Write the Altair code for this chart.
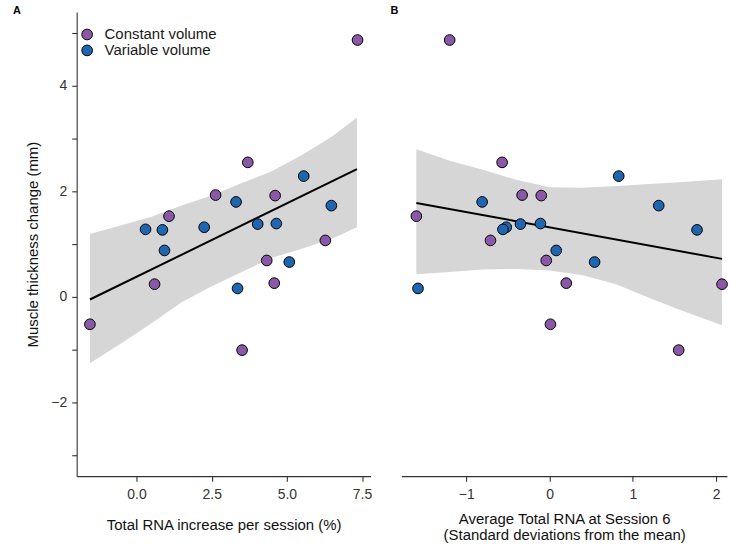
import altair as alt
import pandas as pd

# ---- data ----
groups = ["Constant volume"] * 11 + ["Variable volume"] * 11
rna_increase = [7.35, 3.70, 2.63, 4.61, 1.08, 6.28, 4.33, 4.58, 0.60, -1.55, 3.51,
                5.56, 3.31, 6.48, 4.03, 4.65, 2.25, 0.30, 0.86, 0.93, 5.08, 3.36]
rna_session6 = [-1.20, -0.57, -0.33, -0.10, -1.60, -0.71, -0.04, 0.20, 2.07, 0.01, 1.55,
                0.83, -0.81, 1.31, -0.35, -0.11, -0.52, -0.56, 1.77, 0.08, 0.54, -1.58]
thickness = [4.87, 2.55, 1.93, 1.92, 1.53, 1.07, 0.69, 0.26, 0.24, -0.52, -1.01,
             2.29, 1.80, 1.73, 1.38, 1.39, 1.32, 1.28, 1.27, 0.88, 0.66, 0.16]

# fitted line (end points) and 95% band
lineA_x = [-1.55, 7.33]
lineA_y = [-0.05, 2.42]
bandA_x = [-1.55, -0.5, 0.5, 1.5, 2.5, 3.5, 4.5, 5.5, 6.5, 7.33]
bandA_hi = [1.19, 1.36, 1.52, 1.73, 1.92, 2.16, 2.38, 2.69, 3.04, 3.40]
bandA_lo = [-1.26, -0.88, -0.50, -0.10, 0.20, 0.47, 0.74, 0.91, 1.10, 1.32]

lineB_x = [-1.60, 2.07]
lineB_y = [1.78, 0.72]
bandB_x = [-1.6, -1.2, -0.8, -0.4, 0.0, 0.4, 0.8, 1.2, 1.6, 2.07]
bandB_hi = [2.80, 2.58, 2.41, 2.22, 2.08, 2.07, 2.10, 2.14, 2.18, 2.23]
bandB_lo = [0.43, 0.47, 0.52, 0.53, 0.50, 0.41, 0.24, -0.02, -0.27, -0.54]

group_names = ["Constant volume", "Variable volume"]
group_colors = ["#8b58a8", "#1f66b1"]

pts = pd.DataFrame({"group": groups, "rna_inc": rna_increase,
                    "rna_s6": rna_session6, "thick": thickness})
bandA = pd.DataFrame({"gx": bandA_x, "lo": bandA_lo, "hi": bandA_hi})
lineA = pd.DataFrame({"gx": lineA_x, "fit": lineA_y})
bandB = pd.DataFrame({"gx": bandB_x, "lo": bandB_lo, "hi": bandB_hi})
lineB = pd.DataFrame({"gx": lineB_x, "fit": lineB_y})

FONT = "Liberation Sans"
yscale = alt.Scale(domain=[-3.4, 5.4], nice=False, zero=False)
color = alt.Color("group:N", scale=alt.Scale(domain=group_names, range=group_colors),
                  legend=alt.Legend(title=None, orient="none", legendX=3, legendY=15,
                                    symbolType="circle", symbolSize=115,
                                    symbolStrokeColor="black", symbolStrokeWidth=1,
                                    symbolOpacity=1, labelFontSize=15, labelFont=FONT,
                                    labelColor="#1a1a1a", labelOffset=10, rowPadding=0,
                                    clipHeight=15, padding=0, labelLimit=300))

# ---- panel A ----
xscaleA = alt.Scale(domain=[-1.99, 7.78], nice=False, zero=False)
xaxisA = alt.Axis(values=[0, 2.5, 5, 7.5], format=".1f",
                  title="Total RNA increase per session (%)", titlePadding=17)
yaxisA = alt.Axis(values=list(range(-3, 6)),
                  labelExpr="datum.value % 2 == 0 ? datum.label : ''",
                  title="Muscle thickness change (mm)", titlePadding=10)

bandA_layer = alt.Chart(bandA).mark_area(color="#d6d6d6", opacity=1).encode(
    x=alt.X("gx:Q", scale=xscaleA, axis=xaxisA),
    y=alt.Y("lo:Q", scale=yscale, axis=yaxisA),
    y2="hi:Q")
lineA_layer = alt.Chart(lineA).mark_line(color="black", strokeWidth=2).encode(
    x=alt.X("gx:Q", scale=xscaleA, axis=xaxisA),
    y=alt.Y("fit:Q", scale=yscale, axis=yaxisA))
ptsA_layer = alt.Chart(pts).mark_circle(size=115, stroke="black", strokeWidth=1, opacity=1).encode(
    x=alt.X("rna_inc:Q", scale=xscaleA, axis=xaxisA),
    y=alt.Y("thick:Q", scale=yscale, axis=yaxisA),
    color=color)

panelA = alt.layer(bandA_layer, lineA_layer, ptsA_layer).properties(
    width=295, height=466,
    title=alt.TitleParams("A", anchor="start", frame="group", dx=-64, dy=13, offset=0,
                          baseline="alphabetic", fontSize=11, fontWeight="bold", font=FONT))

# ---- panel B ----
xscaleB = alt.Scale(domain=[-1.78, 2.13], nice=False, zero=False)
xaxisB = alt.Axis(values=[-1, 0, 1, 2], format="d",
                  title=["Average Total RNA at Session 6", "(Standard deviations from the mean)"],
                  titlePadding=11, titleLineHeight=16)

bandB_layer = alt.Chart(bandB).mark_area(color="#d6d6d6", opacity=1).encode(
    x=alt.X("gx:Q", scale=xscaleB, axis=xaxisB),
    y=alt.Y("lo:Q", scale=yscale, axis=None),
    y2="hi:Q")
lineB_layer = alt.Chart(lineB).mark_line(color="black", strokeWidth=2).encode(
    x=alt.X("gx:Q", scale=xscaleB, axis=xaxisB),
    y=alt.Y("fit:Q", scale=yscale, axis=None))
ptsB_layer = alt.Chart(pts).mark_circle(size=115, stroke="black", strokeWidth=1, opacity=1).encode(
    x=alt.X("rna_s6:Q", scale=xscaleB, axis=xaxisB),
    y=alt.Y("thick:Q", scale=yscale, axis=None),
    color=alt.Color("group:N", scale=alt.Scale(domain=group_names, range=group_colors),
                    legend=None))

panelB = alt.layer(bandB_layer, lineB_layer, ptsB_layer).properties(
    width=327, height=466,
    title=alt.TitleParams("B", anchor="start", frame="group", dx=-11, dy=13, offset=0,
                          baseline="alphabetic", fontSize=11, fontWeight="bold", font=FONT))

chart = alt.hconcat(panelA, panelB, spacing=31, bounds="flush").resolve_legend(
    color="independent"
).properties(
    padding={"left": 13, "top": 4, "right": 0, "bottom": 0}
).configure_view(stroke=None).configure_axis(
    grid=False, domainColor="#333333", domainWidth=1.1, tickColor="#333333", tickWidth=1.1,
    tickSize=5, labelFont=FONT, labelFontSize=14, labelColor="#333333", labelPadding=5,
    titleFont=FONT, titleFontSize=15, titleFontWeight="normal", titleColor="#111111"
).configure_axisBottom(labelPadding=6)

chart.save("out.html", embed_options={"renderer": "svg", "actions": False})
